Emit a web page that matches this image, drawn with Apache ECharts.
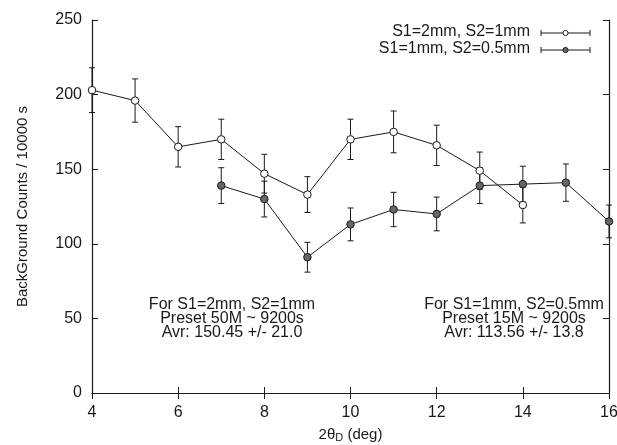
<!DOCTYPE html>
<html>
<head>
<meta charset="utf-8">
<script src="https://cdn.jsdelivr.net/npm/echarts@6/dist/echarts.min.js"></script>
<style>
html, body { margin: 0; padding: 0; background: #fff; }
#chart { width: 617px; height: 445px; }
</style>
</head>
<body>
<div id="chart"></div>
<script>
// S1=2mm, S2=1mm (open circles)
const xA = [4, 5, 6, 7, 8, 9, 10, 11, 12, 13, 14];
const yA = [203, 196, 165, 170, 147, 133, 170, 175, 166, 149, 126];
const errA = [15, 14.5, 13.5, 13.5, 13, 12, 13.5, 14, 13.5, 12.5, 12];
// S1=1mm, S2=0.5mm (filled circles)
const xB = [7, 8, 9, 10, 11, 12, 13, 14, 15, 16];
const yB = [139, 130, 91, 113, 123, 120, 139, 140, 141, 115];
const errB = [12, 12, 10, 11, 11.5, 11.3, 12, 12, 12.5, 11];

const nameA = 'S1=2mm, S2=1mm';
const nameB = 'S1=1mm, S2=0.5mm';
const xTicks = [4, 16, 2];   // min, max, step
const yTicks = [0, 250, 50];

const FONT = '"Liberation Sans", Arial, sans-serif';
const INK = '#1a1a1a';

function pts(xs, ys) { return xs.map((x, i) => [x, ys[i]]); }
function errs(xs, ys, es) { return xs.map((x, i) => [x, ys[i] - es[i], ys[i] + es[i]]); }

function errRender(params, api) {
    const x = api.value(0);
    const lo = api.coord([x, api.value(1)]);
    const hi = api.coord([x, api.value(2)]);
    const w = 3;
    const st = { stroke: INK, lineWidth: 1 };
    return {
        type: 'group',
        children: [
            { type: 'line', shape: { x1: lo[0], y1: lo[1], x2: hi[0], y2: hi[1] }, style: st },
            { type: 'line', shape: { x1: lo[0] - w, y1: lo[1], x2: lo[0] + w, y2: lo[1] }, style: st },
            { type: 'line', shape: { x1: hi[0] - w, y1: hi[1], x2: hi[0] + w, y2: hi[1] }, style: st }
        ]
    };
}

const chart = echarts.init(document.getElementById('chart'), null, { renderer: 'canvas' });

const axisCommon = {
    axisLine: { show: true, lineStyle: { color: INK, width: 1.2 } },
    axisTick: { show: true, inside: true, length: 6, lineStyle: { color: INK } },
    splitLine: { show: false }
};

function legendItem(y, name, filled) {
    return [
        { type: 'text', right: 87, top: y - 9, style: { text: name, font: '16px ' + FONT, fill: INK } },
        { type: 'line', shape: { x1: 541, y1: y, x2: 590, y2: y }, style: { stroke: INK, lineWidth: 1 } },
        { type: 'line', shape: { x1: 541, y1: y - 3, x2: 541, y2: y + 3 }, style: { stroke: INK, lineWidth: 1 } },
        { type: 'line', shape: { x1: 590, y1: y - 3, x2: 590, y2: y + 3 }, style: { stroke: INK, lineWidth: 1 } },
        { type: 'circle', shape: { cx: 565.5, cy: y, r: 2.6 }, style: { fill: filled ? '#666' : '#fff', stroke: INK, lineWidth: 1 } }
    ];
}

const noteStyle = { font: '16px ' + FONT, fill: INK, textAlign: 'center', lineHeight: 14 };

chart.setOption({
    animation: false,
    backgroundColor: '#fff',
    textStyle: { fontFamily: FONT },
    grid: { left: 92, right: 8, top: 20, bottom: 52, containLabel: false, outerBoundsMode: 'none' },
    xAxis: [
        Object.assign({
            type: 'value', min: xTicks[0], max: xTicks[1], interval: xTicks[2],
            name: '{a|2θ}{s|D}{a| (deg)}', nameLocation: 'middle', nameGap: 33,
            nameTextStyle: { rich: { a: { fontSize: 15, color: INK, fontFamily: FONT }, s: { fontSize: 11, color: INK, fontFamily: FONT, verticalAlign: 'bottom', padding: [6, 0, 0, 0] } } },
            axisLabel: { color: INK, fontSize: 16, margin: 12, fontFamily: FONT }
        }, axisCommon),
        Object.assign({
            type: 'value', position: 'top', min: xTicks[0], max: xTicks[1], interval: xTicks[2],
            axisLabel: { show: false }
        }, axisCommon)
    ],
    yAxis: [
        Object.assign({
            type: 'value', min: yTicks[0], max: yTicks[1], interval: yTicks[2],
            name: 'BackGround Counts / 10000 s', nameLocation: 'middle', nameGap: 62, nameRotate: 90,
            nameTextStyle: { color: INK, fontSize: 15, fontFamily: FONT },
            axisLabel: { color: INK, fontSize: 16, margin: 10, fontFamily: FONT }
        }, axisCommon),
        Object.assign({
            type: 'value', position: 'right', min: yTicks[0], max: yTicks[1], interval: yTicks[2],
            axisLabel: { show: false }
        }, axisCommon)
    ],
    series: [
        {
            name: nameA, type: 'line', data: pts(xA, yA),
            symbol: 'circle', symbolSize: 7.5,
            lineStyle: { color: INK, width: 1 },
            itemStyle: { color: '#fff', borderColor: INK, borderWidth: 1 },
            z: 3
        },
        {
            name: nameB, type: 'line', data: pts(xB, yB),
            symbol: 'circle', symbolSize: 7.5,
            lineStyle: { color: INK, width: 1 },
            itemStyle: { color: '#666', borderColor: INK, borderWidth: 1 },
            z: 3
        },
        { type: 'custom', renderItem: errRender, data: errs(xA, yA, errA), z: 2, silent: true },
        { type: 'custom', renderItem: errRender, data: errs(xB, yB, errB), z: 2, silent: true }
    ],
    graphic: [].concat(
        legendItem(33, nameA, false),
        legendItem(50, nameB, true),
        [
            { type: 'text', x: 232, y: 298, style: Object.assign({ text: 'For S1=2mm, S2=1mm\nPreset 50M ~ 9200s\nAvr: 150.45 +/- 21.0' }, noteStyle) },
            { type: 'text', x: 514, y: 298, style: Object.assign({ text: 'For S1=1mm, S2=0.5mm\nPreset 15M ~ 9200s\nAvr: 113.56 +/- 13.8' }, noteStyle) }
        ]
    )
});
</script>
</body>
</html>
